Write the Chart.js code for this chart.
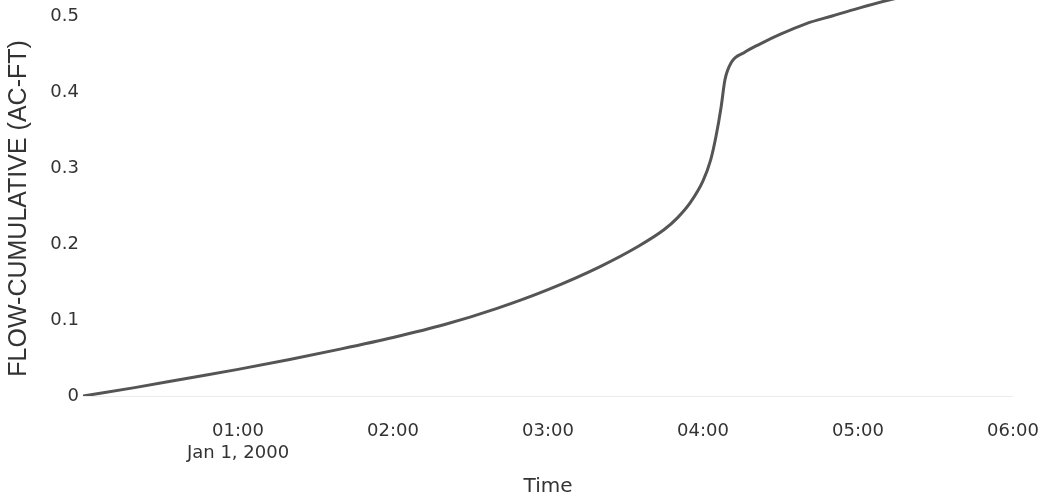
<!DOCTYPE html>
<html lang="en">
<head>
    <meta charset="UTF-8">
    <title>Flow Cumulative</title>
    <script src="https://cdn.jsdelivr.net/npm/chart.js"></script>
    <style>
        body { margin: 0; background: #fff; }
        #flowChart { display: block; }
    </style>
</head>
<body>
    <canvas id="flowChart" width="1047" height="502"></canvas>
    <script>
        // minutes after Jan 1, 2000 00:00
        const minutes = [0, 20, 40, 60, 80, 100, 120, 140, 160, 180, 200, 215, 225, 230, 235, 240,
                         243, 245, 247, 248.5, 251, 256, 262, 270, 280, 290, 300, 312, 330, 360];
        const flow = [0, 0.011, 0.023, 0.035, 0.048, 0.062, 0.077, 0.094, 0.115, 0.140, 0.170, 0.197, 0.219, 0.234, 0.254, 0.283,
                      0.311, 0.341, 0.380, 0.416, 0.439, 0.452, 0.463, 0.476, 0.490, 0.500, 0.510, 0.521, 0.534, 0.553];

        const tickMinutes = [60, 120, 180, 240, 300, 360];
        const tickLabels = [['01:00', 'Jan 1, 2000'], '02:00', '03:00', '04:00', '05:00', '06:00'];

        const points = minutes.map((m, i) => ({ x: m, y: flow[i] }));

        const config = {
            type: 'line',
            data: {
                datasets: [{
                    label: 'FLOW-CUMULATIVE',
                    data: points,
                    borderColor: '#555555',
                    borderWidth: 3,
                    pointRadius: 0,
                    cubicInterpolationMode: 'monotone',
                    fill: false
                }]
            },
            options: {
                responsive: false,
                animation: false,
                layout: { padding: { left: 0, right: 34, top: 0, bottom: 0 } },
                plugins: {
                    legend: { display: false },
                    tooltip: { enabled: false }
                },
                scales: {
                    x: {
                        type: 'linear',
                        min: 0,
                        max: 360,
                        grid: { display: false, drawTicks: false },
                        border: { display: false },
                        afterBuildTicks: (scale) => {
                            scale.ticks = tickMinutes.map(v => ({ value: v }));
                        },
                        afterFit: (scale) => {
                            scale.height = 106;
                            scale.paddingLeft = 0;
                            scale.paddingRight = 0;
                        },
                        ticks: {
                            autoSkip: false,
                            maxRotation: 0,
                            padding: 25,
                            color: '#333',
                            font: { family: 'DejaVu Sans', size: 18 },
                            callback: (value) => {
                                const i = tickMinutes.indexOf(value);
                                return i >= 0 ? tickLabels[i] : '';
                            }
                        },
                        title: {
                            display: true,
                            text: 'Time',
                            color: '#333',
                            font: { family: 'DejaVu Sans', size: 20 },
                            padding: { top: 0, bottom: 3 }
                        }
                    },
                    y: {
                        min: 0,
                        max: 0.521,
                        grid: {
                            drawTicks: false,
                            lineWidth: 1,
                            color: (ctx) => ctx.tick && ctx.tick.value === 0 ? '#ebebeb' : 'rgba(0,0,0,0)'
                        },
                        border: { display: false },
                        afterFit: (scale) => {
                            scale.width = 83;
                            scale.paddingTop = 0;
                            scale.paddingBottom = 0;
                        },
                        ticks: {
                            stepSize: 0.1,
                            includeBounds: false,
                            padding: 4,
                            color: '#333',
                            font: { family: 'DejaVu Sans', size: 18 },
                            callback: (value) => {
                                const v = Math.round(value * 10) / 10;
                                return v === 0 ? '0' : v.toFixed(1);
                            }
                        },
                        title: {
                            display: true,
                            // trailing spaces nudge the rotated title down to match
                            text: 'FLOW-CUMULATIVE (AC-FT)   ',
                            color: '#333',
                            font: { family: 'Liberation Sans', size: 25 },
                            padding: { top: 4, bottom: 0 }
                        }
                    }
                }
            }
        };

        new Chart(document.getElementById('flowChart'), config);
    </script>
</body>
</html>
